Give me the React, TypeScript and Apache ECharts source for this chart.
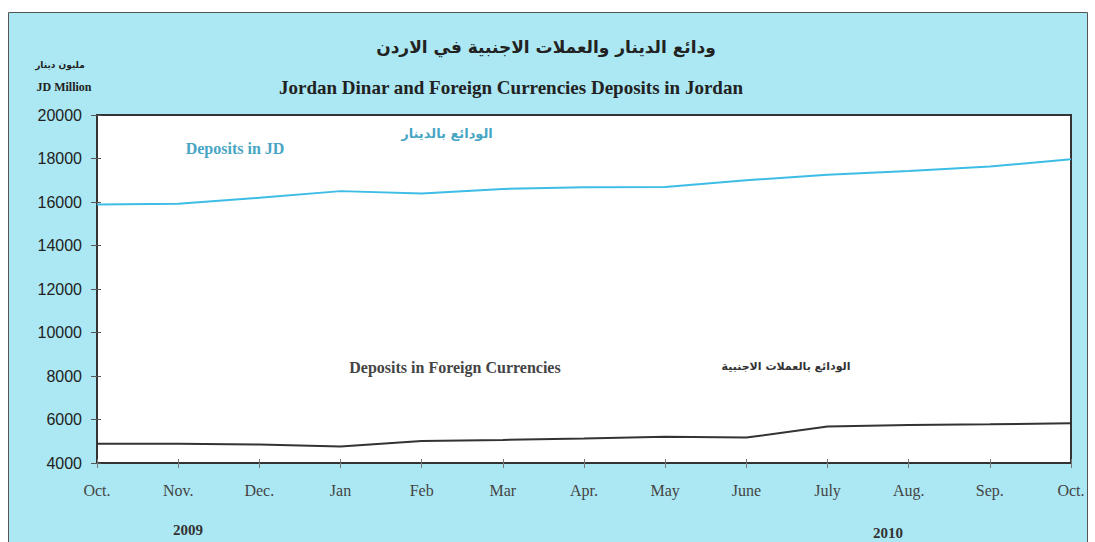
import React, { useEffect, useRef } from "react";
import * as echarts from "echarts";

const months = ["Oct.", "Nov.", "Dec.", "Jan", "Feb", "Mar", "Apr.", "May", "June", "July", "Aug.", "Sep.", "Oct."];
const depositsJD = [15880, 15920, 16190, 16500, 16390, 16600, 16680, 16690, 17000, 17250, 17430, 17630, 17970];
const depositsForeign = [4890, 4880, 4850, 4760, 5010, 5060, 5130, 5210, 5170, 5680, 5750, 5780, 5830];
const yTicks = [4000, 6000, 8000, 10000, 12000, 14000, 16000, 18000, 20000];

const titleAr = "ودائع الدينار والعملات الاجنبية في الاردن";
const titleEn = "Jordan Dinar and Foreign Currencies Deposits in Jordan";
const unitAr = "مليون دينار";
const unitEn = "JD Million";
const labelJDEn = "Deposits in JD";
const labelJDAr = "الودائع بالدينار";
const labelFxEn = "Deposits in Foreign Currencies";
const labelFxAr = "الودائع بالعملات الاجنبية";
const years = ["2009", "2010"];

const SERIF = "'Liberation Serif', 'DejaVu Serif', serif";
const SANS = "'Liberation Sans', Arial, sans-serif";
const ARABIC = "'DejaVu Sans', 'Noto Sans', sans-serif";

export default function App() {
  const ref = useRef<HTMLDivElement>(null);
  useEffect(() => {
    if (!ref.current) return;
    const chart = echarts.init(ref.current, undefined, { renderer: "svg" });
    const txt = (text: string, x: number, y: number, font: string, fill: string, align = "center") => ({
      type: "text",
      z: 10,
      style: { text, x, y, font, fill, textAlign: align, textVerticalAlign: "middle" },
    });
    chart.setOption({
      animation: false,
      backgroundColor: "#ffffff",
      graphic: [
        {
          type: "rect",
          z: -10,
          shape: { x: 8.5, y: 12.5, width: 1079, height: 540 },
          style: { fill: "#abe8f3", stroke: "#555", lineWidth: 1 },
        },
        txt(titleAr, 546, 47, `bold 17px ${ARABIC}`, "#222"),
        txt(titleEn, 511, 87, `bold 19px ${SERIF}`, "#222"),
        txt(unitAr, 60, 65, `bold 9px ${ARABIC}`, "#222"),
        txt(unitEn, 64, 87, `bold 12px ${SERIF}`, "#222"),
        txt(labelJDEn, 235, 148, `bold 16px ${SERIF}`, "#47a6c4"),
        txt(labelJDAr, 447, 133, `bold 13px ${ARABIC}`, "#47a6c4"),
        txt(labelFxEn, 455, 367, `bold 16px ${SERIF}`, "#444"),
        txt(labelFxAr, 786, 366, `bold 11px ${ARABIC}`, "#333"),
        txt(years[0], 188, 530, `bold 15px ${SERIF}`, "#333"),
        txt(years[1], 888, 533, `bold 15px ${SERIF}`, "#333"),
      ],
      grid: {
        left: 97,
        right: 24,
        top: 115,
        bottom: 79,
        show: true,
        backgroundColor: "#ffffff",
        borderColor: "#333",
        borderWidth: 2,
      },
      xAxis: [
        {
          type: "category",
          data: months,
          boundaryGap: false,
          axisLine: { lineStyle: { color: "#333", width: 2 } },
          axisTick: { show: true, length: 5, lineStyle: { color: "#777" } },
          axisLabel: { color: "#444", fontFamily: SERIF, fontSize: 16, margin: 19 },
          splitLine: { show: false },
        },
        {
          type: "category",
          data: months,
          boundaryGap: false,
          position: "bottom",
          axisLine: { show: false },
          axisTick: { show: true, inside: true, length: 4, lineStyle: { color: "#777" } },
          axisLabel: { show: false },
          splitLine: { show: false },
        },
      ],
      yAxis: [
        {
          type: "value",
          min: yTicks[0],
          max: yTicks[yTicks.length - 1],
          interval: 2000,
          axisLine: { show: true, lineStyle: { color: "#333", width: 2 } },
          axisTick: { show: true, length: 6, lineStyle: { color: "#555" } },
          axisLabel: { color: "#222", fontFamily: SANS, fontSize: 16, margin: 15, formatter: (v: number) => String(v) },
          splitLine: { show: false },
        },
        {
          type: "value",
          min: yTicks[0],
          max: yTicks[yTicks.length - 1],
          interval: 2000,
          position: "left",
          axisLine: { show: false },
          axisTick: { show: true, inside: true, length: 4, lineStyle: { color: "#555" } },
          axisLabel: { show: false },
          splitLine: { show: false },
        },
      ],
      series: [
        {
          type: "line",
          name: labelJDEn,
          data: depositsJD,
          symbol: "none",
          lineStyle: { color: "#3dbde6", width: 2 },
          z: 5,
        },
        {
          type: "line",
          name: labelFxEn,
          data: depositsForeign,
          symbol: "none",
          lineStyle: { color: "#333", width: 2 },
          z: 5,
        },
      ],
    });
    return () => chart.dispose();
  }, []);
  return (
    <div
      ref={ref}
      style={{ position: "fixed", left: 0, top: 0, width: 1095, height: 542 }}
    />
  );
}
